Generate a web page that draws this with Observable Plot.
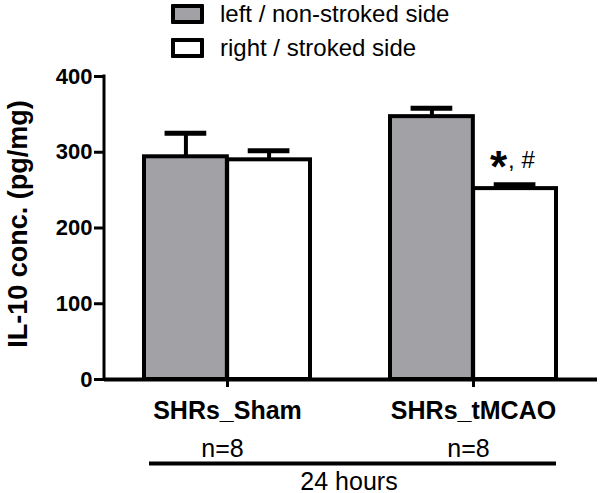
<!DOCTYPE html>
<html><head><meta charset="utf-8">
<script src="https://cdn.jsdelivr.net/npm/d3@7"></script>
<script src="https://cdn.jsdelivr.net/npm/@observablehq/plot@0.6"></script>
<style>
body{margin:0;background:#fff;font-family:Arial,"Liberation Sans",sans-serif}
#wrap{position:relative;width:600px;height:493px;overflow:hidden}
#wrap svg{position:absolute;left:0;top:0}
.leg{position:absolute;left:171px;height:28px;display:flex;align-items:center;font-size:24px;line-height:28px;color:#000;white-space:nowrap}
.sw{width:25px;height:12px;border:4px solid #000;margin-right:16px;box-sizing:content-box;border-radius:1px}
</style></head><body>
<div id="wrap"></div>
<script>
const groups = ["SHRs_Sham", "SHRs_tMCAO"];
const sides = ["left / non-stroked side", "right / stroked side"];
const leftMeans = [294, 347];
const leftSEM = [31, 11];
const rightMeans = [290, 252];
const rightSEM = [12, 5];
const nLabels = ["n=8", "n=8"];
const yTicks = [0, 100, 200, 300, 400];
const yLabel = "IL-10 conc. (pg/mg)";
const timeLabel = "24 hours";
const starLabel = "*";
const hashLabel = ", #";
const colors = ["#a2a1a6", "#ffffff"];

const leftRows = groups.map((g, i) => ({group: g, mean: leftMeans[i], sem: leftSEM[i]}));
const rightRows = groups.map((g, i) => ({group: g, mean: rightMeans[i], sem: rightSEM[i]}));
const nRows = groups.map((g, i) => ({group: g, text: nLabels[i]}));

const W = 600, H = 493, mL = 104, mR = 3, mT = 76, mB = 114;
const xOpts = {domain: groups, paddingInner: 0.325, paddingOuter: 0.163};
let bw;
try { bw = Plot.scale({x: {...xOpts, type: "band", range: [mL, W - mR]}}).bandwidth; }
catch (e) { bw = undefined; }
if (!bw) bw = (W - mL - mR) / (2 - 0.325 + 2 * 0.163) * (1 - 0.325);
const capHalf = 21;

const errTop = d => d.mean + d.sem;
const sigRows = rightRows.filter(d => d.group === groups[1]);

const plot = Plot.plot({
  width: W, height: H,
  marginLeft: mL, marginRight: mR, marginTop: mT, marginBottom: mB,
  style: {fontFamily: "Arial, 'Liberation Sans', sans-serif", color: "#000", background: "transparent", overflow: "visible"},
  x: {...xOpts, axis: null},
  y: {domain: [0, 400], axis: null},
  marks: [
    Plot.axisY({ticks: yTicks, tickSize: 10, strokeWidth: 3, tickPadding: 2, fontSize: 22, fontWeight: "bold", label: null}),
    Plot.axisX({tickSize: 8, strokeWidth: 3, tickPadding: 14, fontSize: 25, fontWeight: "bold", label: null}),
    Plot.text([yLabel], {frameAnchor: "left", textAnchor: "middle", lineAnchor: "middle", rotate: -90, dx: -86, dy: -4, fontSize: 27, fontWeight: "bold"}),
    // error bars (stems)
    Plot.ruleX(leftRows, {x: "group", y1: "mean", y2: errTop, dx: -bw / 4, stroke: "#000", strokeWidth: 4}),
    Plot.ruleX(rightRows, {x: "group", y1: "mean", y2: errTop, dx: bw / 4, stroke: "#000", strokeWidth: 4}),
    Plot.tickY(leftRows, {x: "group", y: errTop, insetLeft: bw / 4 - capHalf, insetRight: 3 * bw / 4 - capHalf, stroke: "#000", strokeWidth: 5}),
    Plot.tickY(rightRows, {x: "group", y: errTop, insetLeft: 3 * bw / 4 - capHalf, insetRight: bw / 4 - capHalf, stroke: "#000", strokeWidth: 5}),
    // bars
    Plot.barY(leftRows, {x: "group", y: "mean", insetRight: bw / 2, fill: colors[0], stroke: "#000", strokeWidth: 4}),
    Plot.barY(rightRows, {x: "group", y: "mean", insetLeft: bw / 2, fill: colors[1], stroke: "#000", strokeWidth: 4}),
    Plot.ruleY([0], {stroke: "#000", strokeWidth: 4}),
    // significance annotation
    Plot.text(sigRows, {x: "group", y: errTop, text: () => starLabel, dx: bw / 4 - 8, dy: -17, textAnchor: "end", lineAnchor: "middle", fontSize: 44, fontWeight: "bold"}),
    Plot.text(sigRows, {x: "group", y: errTop, text: () => hashLabel, dx: bw / 4 - 7, dy: -25, textAnchor: "start", lineAnchor: "middle", fontSize: 24}),
    // n labels
    Plot.text(nRows, {x: "group", text: "text", frameAnchor: "bottom", lineAnchor: "middle", dy: 69, dx: -5, fontSize: 25}),
    Plot.ruleY([0], {dy: 84, insetLeft: 45, insetRight: 41, stroke: "#000", strokeWidth: 4}),
    Plot.text([timeLabel], {frameAnchor: "bottom", lineAnchor: "middle", dy: 102, dx: -2, fontSize: 25})
  ]
});

// y axis line using the plot's own scale
const ys = plot.scale("y");
d3.select(plot).append("line")
  .attr("x1", mL).attr("x2", mL)
  .attr("y1", ys.apply(0) + 2).attr("y2", ys.apply(400) - 1.5)
  .attr("stroke", "#000").attr("stroke-width", 3);

const wrap = document.getElementById("wrap");
wrap.appendChild(plot);
sides.forEach((s, i) => {
  const div = document.createElement("div");
  div.className = "leg";
  div.style.top = (i === 0 ? 0 : 34) + "px";
  const sw = document.createElement("div");
  sw.className = "sw";
  sw.style.background = colors[i];
  const t = document.createElement("span");
  t.textContent = s;
  div.appendChild(sw); div.appendChild(t);
  wrap.appendChild(div);
});
</script>
</body></html>
